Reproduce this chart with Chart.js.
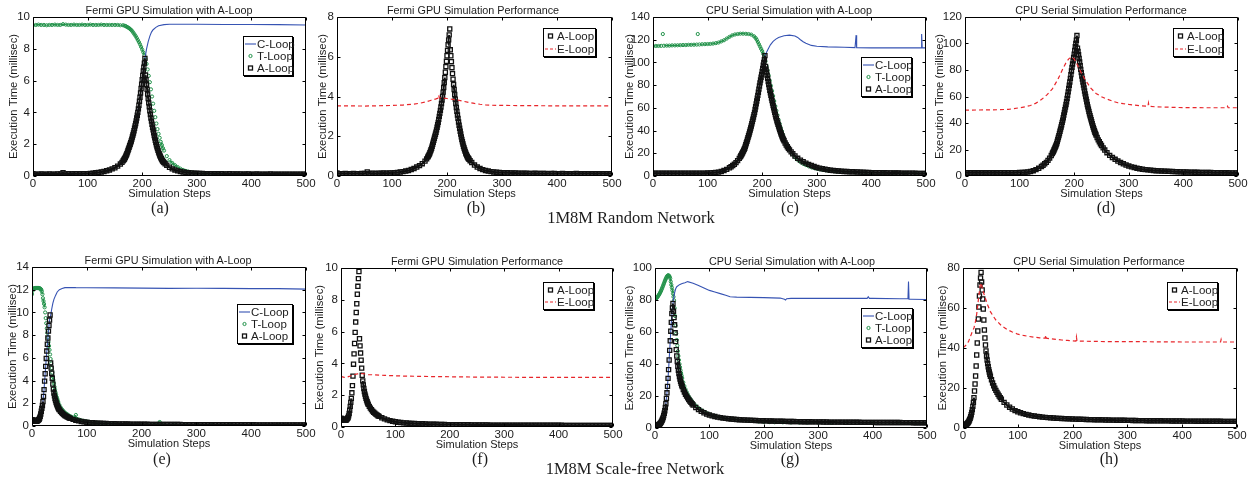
<!DOCTYPE html>
<html>
<head>
<meta charset="utf-8">
<title>A-Loop vs C/T/E-Loop execution time</title>
<script src="https://cdn.jsdelivr.net/npm/chart.js@4.4.1/dist/chart.umd.min.js"></script>
<style>
  html, body { margin: 0; padding: 0; background: #fff; }
  body { position: relative; width: 1259px; height: 480px; overflow: hidden;
         font-family: "Liberation Sans", Arial, Helvetica, sans-serif; color: #1c1c1c; }
  canvas { position: absolute; }
  .ttl { position: absolute; font-size: 10.8px; white-space: nowrap; transform: translate(-50%, -50%); }
  .tag { position: absolute; font-family: "Liberation Serif", "Times New Roman", serif; font-size: 16px;
         white-space: nowrap; transform: translate(-50%, -50%); }
  .cap { position: absolute; font-family: "Liberation Serif", "Times New Roman", serif; font-size: 16.5px;
         white-space: nowrap; transform: translate(-50%, -50%); }
  .leg { position: absolute; box-sizing: border-box; background: #fff; border: 1px solid #000;
         box-shadow: 1px 1px 0 #000; font-size: 11.5px; }
  .leg .row { position: relative; padding-left: 13px; white-space: nowrap; }
  .leg svg { position: absolute; left: 0; }
</style>
</head>
<body>
<script>
/* =============================================
   DATA  ([simulation step, execution time in ms])
   ============================================= */

// 1M8M random network, Fermi GPU
const gpuRndA = [[0,.15],[5,.12],[10,.12],[15,.13],[20,.12],[25,.12],[30,.13],[35,.12],[40,.12],[45,.13],[50,.13],[55,.2],[60,.13],[65,.14],[70,.13],[75,.14],[80,.14],[85,.15],[90,.14],[95,.15],[100,.15],
  [105,.16],[110,.18],[115,.2],[120,.22],[125,.25],[130,.28],[135,.33],[140,.38],[145,.45],[150,.52],[155,.62],[160,.75],[163,.86],[165,.95],
  [166,1],[167,1.05],[168,1.1],[169,1.17],[170,1.25],[171,1.32],[172,1.4],[173,1.5],[174,1.6],[175,1.7],[176,1.8],[177,1.9],[178,2],[179,2.1],[180,2.2],
  [181,2.32],[182,2.45],[183,2.58],[184,2.7],[185,2.85],[186,3],[187,3.15],[188,3.3],[189,3.47],[190,3.65],[191,3.82],[192,4],[193,4.22],[194,4.45],[195,4.7],
  [196,4.95],[197,5.22],[198,5.5],[199,5.77],[200,6.05],[201,6.32],[202,6.6],[203,6.85],[204,7.1],[205,7.4],
  [206,6.35],[207,6.05],[208,5.75],[209,5.45],[210,5.15],[211,4.87],[212,4.6],[213,4.35],[214,4.1],[215,3.87],[216,3.65],[217,3.45],[218,3.25],[219,3.07],[220,2.9],
  [221,2.72],[222,2.55],[223,2.4],[224,2.25],[225,2.11],[226,1.97],[227,1.84],[228,1.72],[229,1.61],[230,1.5],[231,1.41],[232,1.32],[233,1.24],[234,1.16],[235,1.09],
  [236,1.03],[237,.97],[238,.92],[239,.88],[240,.84],[242,.77],[245,.68],[250,.55],[255,.45],[260,.38],[265,.32],[270,.28],[275,.25],[280,.22],[285,.2],[290,.19],[295,.18],[300,.17],
  [305,.16],[310,.16],[315,.15],[320,.15],[325,.15],[330,.14],[335,.14],[340,.14],[345,.14],[350,.13],[355,.13],[360,.14],[365,.13],[370,.13],[375,.13],[380,.13],[385,.12],[390,.13],[395,.13],[400,.12],
  [405,.12],[410,.13],[415,.12],[420,.12],[425,.12],[430,.12],[435,.13],[440,.12],[445,.12],[450,.12],[455,.12],[460,.12],[465,.12],[470,.11],[475,.12],[480,.12],[485,.12],[490,.11],[495,.12],[500,.12]];

const gpuRndT = [[0,9.48],[5,9.5],[10,9.52],[15,9.5],[20,9.5],[25,9.48],[30,9.5],[35,9.5],[40,9.52],[45,9.5],[50,9.5],[55,9.55],[60,9.52],[65,9.5],[70,9.5],[75,9.52],[80,9.5],[85,9.5],[90,9.52],[95,9.5],[100,9.5],
  [105,9.52],[110,9.5],[115,9.5],[120,9.5],[125,9.52],[130,9.5],[135,9.5],[140,9.5],[145,9.5],[150,9.5],[155,9.5],[160,9.48],[165,9.48],
  [168,9.45],[170,9.42],[172,9.38],[174,9.34],[176,9.3],[178,9.24],[180,9.18],[182,9.1],[184,9],[186,8.9],[188,8.8],[190,8.68],[192,8.55],[194,8.42],[196,8.28],[198,8.12],[200,7.95],[202,7.78],[204,7.6],
  [206,7.35],[208,7.05],[210,6.7],[212,6.3],[214,5.9],[216,5.45],[218,5],[220,4.55],[222,4.1],[224,3.7],[226,3.3],[228,2.95],[230,2.65],[232,2.4],[234,2.15],[236,1.95],[238,1.75],[240,1.6],
  [245,1.25],[250,1],[255,.82],[260,.68],[265,.56],[270,.46],[275,.38],[280,.32],[285,.27],[290,.23],[295,.2],[300,.18],[310,.16],[320,.14],[330,.13],[340,.13],[350,.12],[375,.12],[400,.12],[425,.12],[450,.12],[475,.12],[500,.12]];

const gpuRndC = [[0,.15],[50,.13],[100,.15],[120,.22],[140,.38],[150,.52],[160,.75],[170,1.25],[180,2.2],[185,2.85],[190,3.65],[195,4.7],[200,6.05],[205,7.4],
  [208,8],[211,8.45],[214,8.8],[217,9.05],[220,9.2],[225,9.35],[230,9.45],[240,9.52],[250,9.54],[300,9.54],[350,9.53],[400,9.53],[450,9.52],[500,9.5]];

const gpuRndE = [[0,3.53],[50,3.52],[100,3.55],[120,3.57],[140,3.62],[150,3.66],[160,3.72],[170,3.8],[180,3.88],[184,3.92],[185,4.06],[186,3.93],[190,3.93],[200,3.9],[210,3.86],[220,3.82],
  [230,3.76],[240,3.7],[250,3.65],[260,3.61],[270,3.58],[280,3.56],[300,3.55],[350,3.54],[400,3.53],[450,3.53],[500,3.53]];

// 1M8M random network, CPU serial
const cpuRndA = [[0,2.5],[5,2.4],[10,2.4],[15,2.4],[20,2.4],[25,2.4],[30,2.4],[35,2.4],[40,2.4],[45,2.4],[50,2.4],[55,2.4],[60,2.4],[65,2.45],[70,2.45],[75,2.45],[80,2.5],[85,2.5],[90,2.5],[95,2.55],[100,2.6],
  [105,2.7],[110,2.85],[115,3.05],[120,3.4],[125,4],[130,4.8],[135,5.8],[140,7.2],[143,8.1],[146,9.2],[149,10.3],[152,11.8],[155,13.5],[158,15.5],
  [160,17],[161,17.8],[162,18.6],[163,19.6],[164,20.5],[165,21.5],[166,22.5],[167,23.5],[168,24.5],[169,26],[170,27.5],[171,29],[172,30.5],[173,32.1],[174,33.8],[175,35.4],
  [176,37],[177,38.7],[178,40.5],[179,42.2],[180,44],[181,46],[182,48],[183,50],[184,52],[185,54],[186,56],[187,58.5],[188,61],[189,63.5],[190,66],
  [191,68.5],[192,71],[193,73.7],[194,76.5],[195,79.2],[196,82],[197,84.5],[198,87],[199,89.5],[200,92],[201,94.7],[202,97.5],[203,100],[204,102.5],[205,106],
  [206,96.5],[207,94],[208,91.5],[209,88.7],[210,86],[211,83.2],[212,80.5],[213,78],[214,75.5],[215,73.2],[216,71],[217,68.7],[218,66.5],[219,64.2],[220,62],
  [221,60],[222,58],[223,56],[224,54],[225,52.2],[226,50.5],[227,48.7],[228,47],[229,45.5],[230,44],[231,42.5],[232,41],[233,39.5],[234,38],[235,36.7],
  [236,35.5],[237,34.2],[238,33],[239,32],[240,31],[242,29],[244,27.3],[246,25.8],[248,24.3],[250,23],[253,21.2],[256,19.6],[260,17.6],[265,15.6],[270,14],[275,12.6],[280,11.3],[285,10.2],[290,9.2],[295,8.3],[300,7.5],
  [305,6.9],[310,6.4],[315,5.9],[320,5.5],[325,5.1],[330,4.8],[335,4.6],[340,4.4],[345,4.2],[350,4],[355,3.9],[360,3.8],[365,3.7],[370,3.6],[375,3.5],[380,3.4],[385,3.3],[390,3.2],[395,3.1],[400,3],
  [405,3],[410,2.9],[415,2.9],[420,2.8],[425,2.8],[430,2.7],[435,2.7],[440,2.6],[445,2.6],[450,2.6],[455,2.5],[460,2.5],[465,2.5],[470,2.4],[475,2.4],[480,2.4],[485,2.3],[490,2.3],[495,2.3],[500,2.3]];

const cpuRndT = [[0,114.3],[5,114.5],[10,114.5],[15,114.6],[18,125],[20,114.7],[25,114.8],[30,114.8],[35,115],[40,115],[45,115.1],[50,115.2],[55,115.3],[60,115.3],[65,115.5],[70,115.5],[75,115.6],[80,115.7],[82,125],[85,115.8],[90,116],[95,116.1],[100,116.2],
  [105,116.3],[110,116.6],[115,117],[120,117.5],[125,118.5],[130,119.5],[135,121],[140,122.5],[145,123.8],[150,124.6],[155,125],[160,125.3],[165,125.3],[170,125.2],[175,125],[180,124.5],[185,123],
  [188,121.5],[190,120],[192,118],[194,116],[196,114],[198,112],[200,110],[202,107.5],[204,104.5],[206,101],[208,97],[210,93],[212,88.5],[214,84],[216,79.5],[218,75],[220,70.5],
  [222,66],[224,61.5],[226,57.5],[228,53.5],[230,49.5],[232,46],[234,42.5],[236,39.5],[238,36.5],[240,33.5],[245,27.5],[250,23],[255,19.5],[260,16.5],[265,14.2],[270,12.3],[275,10.8],[280,9.6],
  [285,8.6],[290,7.7],[295,7],[300,6.4],[305,5.9],[310,5.5],[315,5.1],[320,4.8],[325,4.5],[330,4.3],[335,4.1],[340,3.9],[345,3.7],[350,3.6],[360,3.4],[370,3.2],[380,3.1],[390,3],[400,2.9],
  [420,2.8],[440,2.7],[460,2.6],[480,2.5],[500,2.4]];

const cpuRndC = [[0,2.5],[50,2.4],[100,2.6],[120,3.4],[140,7.2],[150,10.5],[160,17],[170,27.5],[180,44],[190,66],[200,92],[205,106],[210,111],[215,115.5],[220,118.5],[225,120.5],[230,122],
  [240,123.5],[250,124],[260,123.2],[265,122],[270,120],[275,118.2],[280,116.8],[290,115],[300,114.2],[320,113.7],[350,113.3],[370,113],[371,113],[372,124],[373,113],
  [400,112.8],[450,112.8],[491,112.8],[492,125],[493,113],[500,112.8]];

const cpuRndE = [[0,49.7],[20,49.8],[50,49.9],[80,50.3],[100,51.5],[110,52.2],[120,53.2],[130,55],[140,57.7],[150,61.2],[160,65.8],[170,72.8],[180,81.6],[185,85.5],[190,88.4],[195,89.9],[200,88.4],
  [205,84.5],[210,80.3],[215,76.3],[220,72.8],[230,66.5],[240,62.3],[250,59.8],[260,58],[270,56.5],[280,55.3],[290,54.6],[300,54],[320,53],[335,52.6],[336,55],[337,52.6],[350,52.2],
  [400,51.6],[450,51.5],[480,51.5],[481,52.5],[482,51.5],[500,51.5]];

// 1M8M scale-free network, Fermi GPU
const gpuSfA = [[0,.55],[1,.52],[2,.5],[3,.48],[4,.46],[5,.45],[6,.43],[7,.42],[8,.42],[9,.43],[10,.45],[11,.5],[12,.55],[13,.6],[14,.7],[15,.85],[16,1.05],[17,1.3],[18,1.55],[19,1.8],[20,2.15],
  [21,2.6],[22,3.2],[23,3.95],[24,4.6],[25,5.25],[26,5.95],[27,6.6],[28,7.2],[29,7.75],[30,8.35],[31,8.85],[32,9.33],[33,9.78],
  [34,5.55],[35,5.1],[36,4.65],[37,4.2],[38,3.7],[39,3.25],[40,2.9],[41,2.65],[42,2.42],[43,2.23],[44,2.07],[45,1.93],[46,1.8],[47,1.69],[48,1.59],[49,1.5],[50,1.42],
  [52,1.3],[54,1.19],[56,1.09],[58,1],[60,.93],[62,.87],[64,.81],[66,.76],[68,.71],[70,.67],[75,.58],[80,.51],[85,.45],[90,.4],[95,.36],[100,.33],
  [105,.3],[110,.28],[115,.26],[120,.25],[125,.24],[130,.23],[135,.22],[140,.21],[145,.2],[150,.2],[155,.19],[160,.18],[165,.18],[170,.17],[175,.17],[180,.16],[185,.16],[190,.16],[195,.15],[200,.15],
  [205,.15],[210,.15],[215,.14],[220,.14],[225,.14],[230,.14],[235,.14],[240,.13],[245,.13],[250,.13],[255,.13],[260,.13],[265,.13],[270,.13],[275,.12],[280,.12],[285,.12],[290,.12],[295,.12],[300,.12],
  [305,.12],[310,.12],[315,.12],[320,.12],[325,.12],[330,.12],[335,.11],[340,.11],[345,.11],[350,.11],[355,.11],[360,.11],[365,.11],[370,.11],[375,.11],[380,.11],[385,.11],[390,.11],[395,.11],[400,.11],
  [405,.11],[410,.1],[415,.1],[420,.1],[425,.1],[430,.1],[435,.1],[440,.1],[445,.1],[450,.1],[455,.1],[460,.1],[465,.1],[470,.1],[475,.1],[480,.1],[485,.1],[490,.1],[495,.1],[500,.1]];

const gpuSfT = [[0,11.6],[1,11.9],[2,12.05],[3,12.1],[4,12.12],[5,12.13],[6,12.15],[7,12.15],[8,12.15],[9,12.15],[10,12.15],[11,12.15],[12,12.15],[13,12.13],[14,12.12],[15,12.1],[16,12.06],[17,12],
  [18,11.85],[19,11.6],[20,11.25],[21,11],[22,10.75],[23,10.45],[24,10],[25,9.5],[26,9.05],[27,8.6],[28,8.2],[29,7.8],[30,7.4],[31,7.05],[32,6.7],[33,6.3],[34,5.9],[35,5.5],[36,5.1],[37,4.7],
  [38,4.35],[39,4.05],[40,3.75],[41,3.45],[42,3.2],[43,2.95],[44,2.75],[45,2.55],[46,2.4],[47,2.25],[48,2.1],[50,1.85],[52,1.65],[54,1.5],[56,1.38],[58,1.27],[60,1.18],[63,1.08],[66,.98],
  [70,.87],[74,.77],[78,.7],[80,.97],[82,.62],[86,.56],[90,.5],[95,.45],[100,.4],[105,.36],[110,.32],[115,.29],[120,.27],[125,.25],[130,.23],[135,.21],[140,.2],[145,.19],[150,.18],
  [160,.16],[170,.15],[180,.14],[190,.14],[200,.13],[210,.13],[220,.13],[233,.35],[240,.12],[260,.12],[280,.12],[300,.11],[330,.11],[360,.11],[400,.1],[450,.1],[500,.1]];

const gpuSfC = [[0,.55],[5,.45],[10,.45],[12,.55],[14,.7],[16,1.05],[18,1.55],[20,2.15],[22,3.2],[24,4.6],[26,5.95],[28,7.2],[30,8.35],[32,9.33],[34,9.75],[36,10.3],[38,10.8],[40,11.15],
  [43,11.5],[46,11.8],[50,12],[55,12.1],[60,12.18],[70,12.2],[80,12.18],[100,12.17],[150,12.16],[200,12.14],[250,12.12],[300,12.13],[350,12.12],[400,12.1],[450,12.1],[500,12.05]];

const gpuSfE = [[0,3.2],[3,3.15],[6,3.12],[10,3.13],[15,3.18],[20,3.25],[25,3.3],[30,3.34],[35,3.36],[40,3.36],[45,3.33],[50,3.3],[60,3.28],[70,3.26],[80,3.25],[100,3.22],[120,3.2],
  [150,3.18],[200,3.16],[250,3.14],[300,3.13],[400,3.12],[500,3.12]];

// 1M8M scale-free network, CPU serial
const cpuSfA = [[0,1.4],[1,1.4],[2,1.45],[3,1.5],[4,1.6],[5,1.7],[6,1.85],[7,2],[8,2.3],[9,2.6],[10,3],[11,3.5],[12,4.1],[13,4.8],[14,5.6],[15,6.6],[16,7.8],[17,9.2],[18,10.8],[19,12.8],[20,15.2],
  [21,18.5],[22,22],[23,26],[24,31],[25,36.5],[26,42.5],[27,48.5],[28,54.5],[29,60.5],[30,66],[31,71.5],[32,75],[33,77.8],
  [34,73],[35,69],[36,64.5],[37,59.5],[38,54],[39,49],[40,45],[41,41.5],[42,38.5],[43,36],[44,34],[45,32.2],[46,30.6],[47,29.2],[48,28],[49,26.9],[50,25.9],
  [52,24.1],[54,22.5],[56,21.1],[58,19.9],[60,18.8],[62,17.8],[64,16.9],[66,16],[68,15.2],[70,14.4],[75,12.8],[80,11.5],[85,10.4],[90,9.5],[95,8.7],[100,8.1],
  [105,7.6],[110,7.2],[115,6.8],[120,6.5],[125,6.2],[130,6],[135,5.8],[140,5.6],[145,5.45],[150,5.3],[155,5.2],[160,5.1],[165,5],[170,4.9],[175,4.8],[180,4.75],[185,4.7],[190,4.6],[195,4.55],[200,4.5],
  [205,4.45],[210,4.4],[215,4.35],[220,4.3],[225,4.25],[230,4.2],[235,4.2],[240,4.15],[245,4.1],[250,4.1],[255,4.05],[260,4],[265,4],[270,3.95],[275,3.95],[280,3.9],[285,3.9],[290,3.85],[295,3.85],[300,3.8],
  [305,3.8],[310,3.75],[315,3.75],[320,3.7],[325,3.7],[330,3.7],[335,3.65],[340,3.65],[345,3.65],[350,3.6],[355,3.6],[360,3.6],[365,3.55],[370,3.55],[375,3.55],[380,3.5],[385,3.5],[390,3.5],[395,3.5],[400,3.5],
  [405,3.45],[410,3.45],[415,3.45],[420,3.45],[425,3.4],[430,3.4],[435,3.4],[440,3.4],[445,3.4],[450,3.4],[455,3.35],[460,3.35],[465,3.35],[470,3.35],[475,3.3],[480,3.3],[485,3.3],[490,3.3],[495,3.3],[500,3.3]];

const cpuSfT = [[0,80.5],[1,80.7],[2,81],[3,81.3],[4,81.7],[5,82.1],[6,82.6],[7,83.1],[8,83.7],[9,84.3],[10,85],[11,85.7],[12,86.5],[13,87.3],[14,88.2],[15,89.1],[16,90],[17,90.9],[18,91.8],[19,92.6],[20,93.4],
  [21,94.1],[22,94.7],[23,95.1],[24,95.4],[25,95.4],[26,95],[27,94.5],[28,93.5],[29,91.5],[30,89.5],[31,87.8],[32,86],[33,84],[34,82],[35,79.8],[36,75],[37,70],[38,64],[39,59],[40,55],
  [41,51.5],[42,48],[43,45],[44,42.5],[45,40],[46,38],[47,36],[48,34.3],[49,32.7],[50,31.2],[52,28.5],[54,26.2],[56,24.2],[58,22.5],[60,21],[62,19.7],[64,18.6],[66,17.6],[68,16.7],[70,15.8],
  [75,14],[80,12.5],[85,11.2],[90,10.2],[95,9.3],[100,8.6],[110,7.6],[120,6.8],[130,6.2],[140,5.7],[150,5.3],[160,5],[170,4.7],[180,4.4],[190,4.1],[200,3.8],[210,3.7],[220,3.6],[235,3.55],
  [250,3.5],[265,3.45],[280,3.4],[300,3.35],[325,3.3],[350,3.3],[400,3.2],[450,3.15],[500,3.1]];

const cpuSfC = [[0,1.4],[5,1.7],[10,3],[14,5.6],[18,10.8],[20,15.2],[22,22],[24,31],[26,42.5],[28,54.5],[30,66],[32,75],[34,80.5],[36,84.5],[38,87],[40,88.3],[45,89.6],[50,90.3],[55,90.8],
  [60,91.5],[70,90.5],[80,89],[90,87.5],[100,86],[110,85],[120,84],[130,83],[138,82],[150,81.8],[200,81.5],[230,81.2],[238,80.5],[240,80],[242,80.8],[250,81],[300,81],[350,81],
  [390,81],[392,82],[394,81],[400,81],[450,80.8],[465,80.8],[466,91.5],[467,80.5],[470,80.5],[500,80.3]];

const cpuSfE = [[0,40.3],[3,40.8],[6,41.6],[10,43.2],[13,45.3],[16,47.5],[20,50],[23,53.5],[25,57],[28,64],[30,68.5],[32,72.5],[34,71.5],[36,69],[40,65.5],[45,61.5],[50,58.2],[55,56],[60,54],
  [70,51.2],[80,49.3],[90,48],[100,46.9],[110,46.3],[120,45.8],[130,45.4],[140,45.1],[150,44.9],[151,46.5],[152,44.9],[160,44.6],[170,44.3],[180,44],[190,43.8],[200,43.6],
  [206,43.5],[207,45.5],[208,43.5],[220,43.4],[240,43.3],[260,43.2],[300,43.2],[350,43.1],[400,43],[450,43],[470,43],[471,44.2],[472,43],[500,43]];

// axis ranges / tick steps and text
const stepRange = [0, 500];
const stepTick = 100;
const xLabel = 'Simulation Steps';
const yLabel = 'Execution Time (millisec)';
const captions = ['1M8M Random Network', '1M8M Scale-free Network'];

/* =============================================
   STYLES
   ============================================= */
const INK = '#1c1c1c';
const SANS = '"Liberation Sans", Arial, Helvetica, sans-serif';
const CLEAR = 'rgba(0,0,0,0)';

// marker series get a joining line only where neighbouring markers overlap anyway,
// so dense runs read as a solid band and steep runs stay as separate markers
const joinIfClose = (color, gap) => ctx => (Math.abs(ctx.p1.y - ctx.p0.y) > gap ? CLEAR : color);

const STYLE = {
  C: { label: 'C-Loop', ds: { showLine: true, pointRadius: 0, borderColor: '#3653b3', borderWidth: 1.1, order: 1 } },
  T: { label: 'T-Loop', ds: { showLine: true, pointStyle: 'circle', pointRadius: 1.6, borderWidth: 1.2,
       borderColor: '#22924a', pointBorderWidth: 1, segment: { borderColor: joinIfClose('#22924a', 3.5) }, order: 2 } },
  A: { label: 'A-Loop', ds: { showLine: true, pointStyle: 'rect', pointRadius: 2.9, borderWidth: 2,
       borderColor: '#111', pointBorderWidth: 1.3, segment: { borderColor: joinIfClose('#111', 5) }, order: 0 } },
  E: { label: 'E-Loop', ds: { showLine: true, pointRadius: 0, borderColor: '#e8262b', borderWidth: 1.2,
       borderDash: [4, 3], order: -1 } }
};

const SYMBOL = {
  C: '<line x1="1" y1="6" x2="12" y2="6" stroke="#3653b3" stroke-width="1.1"/>',
  T: '<circle cx="6.5" cy="6" r="1.6" fill="none" stroke="#22924a" stroke-width="1"/>',
  A: '<rect x="4.5" y="4" width="4" height="4" fill="none" stroke="#111" stroke-width="1.3"/>',
  E: '<line x1="1" y1="6" x2="12" y2="6" stroke="#e8262b" stroke-width="1.2" stroke-dasharray="3,2"/>'
};

/* =============================================
   PANEL LAYOUT  (box = plot area L, R, T, B in page px)
   ============================================= */
const panels = [
  { box: [33, 306, 17, 176], yMax: 10, yStep: 2, yOff: 19, title: 'Fermi GPU Simulation with A-Loop', titleAt: [169, 10],
    tag: '(a)', tagAt: [160, 208], legend: [243, 36, 50, 40], series: { C: gpuRndC, T: gpuRndT, A: gpuRndA } },
  { box: [337, 612, 17, 176], yMax: 8, yStep: 2, yOff: 14, title: 'Fermi GPU Simulation Performance', titleAt: [473, 10],
    tag: '(b)', tagAt: [476, 208], legend: [543, 28, 53, 29], series: { A: gpuRndA, E: gpuRndE } },
  { box: [653, 926, 17, 176], yMax: 140, yStep: 20, yOff: 23, title: 'CPU Serial Simulation with A-Loop', titleAt: [789, 10],
    tag: '(c)', tagAt: [790, 208], legend: [861, 57, 51, 40], series: { C: cpuRndC, T: cpuRndT, A: cpuRndA } },
  { box: [965, 1238, 17, 176], yMax: 120, yStep: 20, yOff: 25, title: 'CPU Serial Simulation Performance', titleAt: [1101, 10],
    tag: '(d)', tagAt: [1106, 208], legend: [1173, 28, 50, 29], series: { A: cpuRndA, E: cpuRndE } },
  { box: [32, 306, 267, 426], yMax: 14, yStep: 2, yOff: 19, title: 'Fermi GPU Simulation with A-Loop', titleAt: [168, 260],
    tag: '(e)', tagAt: [162, 459], legend: [237, 304, 56, 40], series: { C: gpuSfC, T: gpuSfT, A: gpuSfA } },
  { box: [341, 613, 268, 427], yMax: 10, yStep: 2, yOff: 21, title: 'Fermi GPU Simulation Performance', titleAt: [477, 261],
    tag: '(f)', tagAt: [480, 459], legend: [543, 282, 51, 28], series: { A: gpuSfA, E: gpuSfE } },
  { box: [655, 927, 268, 428], yMax: 100, yStep: 20, yOff: 25, title: 'CPU Serial Simulation with A-Loop', titleAt: [792, 261],
    tag: '(g)', tagAt: [790, 459], legend: [861, 308, 52, 40], series: { C: cpuSfC, T: cpuSfT, A: cpuSfA } },
  { box: [963, 1237, 268, 428], yMax: 80, yStep: 20, yOff: 20, title: 'CPU Serial Simulation Performance', titleAt: [1099, 261],
    tag: '(h)', tagAt: [1109, 459], legend: [1167, 282, 51, 28], series: { A: cpuSfA, E: cpuSfE } }
];
const captionAt = [[631, 218], [635, 469]];

/* =============================================
   MATLAB-STYLE BOX WITH INWARD TICKS
   ============================================= */
const boxPlugin = {
  id: 'matBox',
  afterDraw(chart) {
    const ctx = chart.ctx, a = chart.chartArea;
    const xs = chart.scales.x, ys = chart.scales.y;
    const l = Math.round(a.left) + 0.5, r = Math.round(a.right) - 0.5;
    const t = Math.round(a.top) + 0.5, b = Math.round(a.bottom) - 0.5;
    ctx.save();
    ctx.setLineDash([]);
    ctx.strokeStyle = '#000';
    ctx.lineWidth = 1;
    ctx.beginPath();
    ctx.rect(l, t, r - l, b - t);
    xs.ticks.forEach(tk => {
      const px = Math.round(xs.getPixelForValue(tk.value)) + 0.5;
      ctx.moveTo(px, b); ctx.lineTo(px, b - 3);
      ctx.moveTo(px, t); ctx.lineTo(px, t + 3);
    });
    ys.ticks.forEach(tk => {
      const py = Math.round(ys.getPixelForValue(tk.value)) + 0.5;
      ctx.moveTo(l, py); ctx.lineTo(l + 3, py);
      ctx.moveTo(r, py); ctx.lineTo(r - 3, py);
    });
    ctx.stroke();
    ctx.restore();
  }
};

/* =============================================
   BUILD
   ============================================= */
function addText(cls, text, [x, y]) {
  const d = document.createElement('div');
  d.className = cls;
  d.textContent = text;
  d.style.left = x + 'px';
  d.style.top = y + 'px';
  document.body.appendChild(d);
}

function addLegend(p) {
  const [x, y, w, h] = p.legend;
  const keys = Object.keys(p.series);
  const rh = (h - 3) / keys.length;
  const box = document.createElement('div');
  box.className = 'leg';
  Object.assign(box.style, { left: x + 'px', top: y + 'px', width: w + 'px', height: h + 'px', paddingTop: '0.5px' });
  box.innerHTML = keys.map(k => `
    <div class="row" style="height:${rh}px;line-height:${rh}px">
      <svg width="13" height="12" style="top:${(rh - 12) / 2}px">${SYMBOL[k]}</svg>${STYLE[k].label}
    </div>`).join('');
  document.body.appendChild(box);
}

function buildPanel(p) {
  const [L, R, T, B] = p.box;
  const yw = Math.round(p.yOff + 6.7);
  const padTop = 10, padRight = 14, xh = 26;
  const w = yw + (R - L) + padRight;
  const h = padTop + (B - T) + xh;

  const cv = document.createElement('canvas');
  cv.width = w; cv.height = h;
  Object.assign(cv.style, { left: (L - yw) + 'px', top: (T - padTop) + 'px', width: w + 'px', height: h + 'px' });
  document.body.appendChild(cv);

  const datasets = Object.entries(p.series).map(([k, pts]) => {
    const st = STYLE[k].ds;
    return Object.assign(
      { label: STYLE[k].label, data: pts.map(([sx, sy]) => ({ x: sx, y: sy })) },
      st,
      { pointBackgroundColor: CLEAR, pointBorderColor: st.borderColor,
        pointBorderWidth: st.pointBorderWidth || st.borderWidth, pointHoverRadius: 0 }
    );
  });

  const noGrid = { display: false, drawTicks: false, tickLength: 0 };

  new Chart(cv, {
    type: 'scatter',
    data: { datasets },
    options: {
      responsive: false,
      animation: false,
      events: [],
      layout: { padding: { top: padTop, right: padRight, bottom: 0, left: 0 } },
      plugins: { legend: { display: false }, tooltip: { enabled: false } },
      scales: {
        x: {
          type: 'linear', min: stepRange[0], max: stepRange[1],
          grid: noGrid, border: { display: false },
          ticks: { stepSize: stepTick, padding: 1, maxRotation: 0, color: INK, font: { family: SANS, size: 11.5 } },
          title: { display: true, text: xLabel, color: INK, font: { family: SANS, size: 11 }, padding: { top: 0, bottom: 1.4 } },
          afterFit: s => { s.height = xh; }
        },
        y: {
          type: 'linear', min: 0, max: p.yMax,
          grid: noGrid, border: { display: false },
          ticks: { stepSize: p.yStep, padding: 3, color: INK, font: { family: SANS, size: 11.5 } },
          title: { display: true, text: yLabel, color: INK, font: { family: SANS, size: 11.3 }, padding: { top: 0, bottom: 0 } },
          afterFit: s => { s.width = yw; }
        }
      }
    },
    plugins: [boxPlugin]
  });

  addText('ttl', p.title, p.titleAt);
  addText('tag', p.tag, p.tagAt);
  addLegend(p);
}

panels.forEach(buildPanel);
captions.forEach((c, i) => addText('cap', c, captionAt[i]));
</script>
</body>
</html>
